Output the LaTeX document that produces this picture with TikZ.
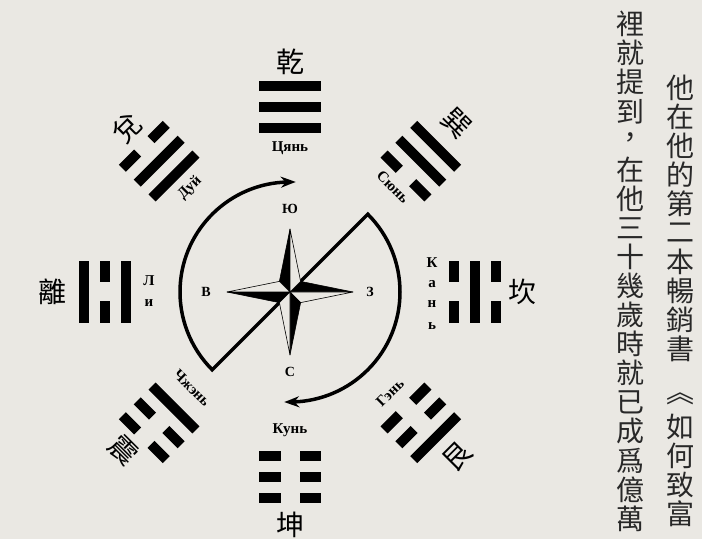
\documentclass[tikz,border=0pt]{standalone}
\usepackage{fontspec}
\setmainfont{Liberation Serif}
\newfontfamily\cjk{Noto Sans CJK TC}
\usetikzlibrary{arrows.meta,bending,calc}
\definecolor{paper}{RGB}{234,232,227}
\definecolor{ink}{RGB}{40,40,40}
\newcommand\trline[2]{%
  \ifnum#2=1
    \fill (-31,#1-5) rectangle (31,#1+5);
  \else
    \fill (-31,#1-5) rectangle (-9.5,#1+5);
    \fill (9.5,#1-5) rectangle (31,#1+5);
  \fi}
\newcommand\trigram[4]{%
  \begin{scope}[shift={(C)}, rotate={#1-90}]
    \trline{164}{#2}\trline{185}{#3}\trline{206}{#4}
  \end{scope}}
\begin{document}
\begin{tikzpicture}[x=1pt,y=1pt,
  ru/.style={font=\fontsize{15}{15}\selectfont\bfseries, inner sep=0pt},
  cmp/.style={font=\fontsize{14}{14}\selectfont\bfseries, inner sep=0pt},
  zh/.style={font=\cjk\fontsize{28}{28}\selectfont, inner sep=0pt},
  col/.style={font=\cjk\fontsize{28}{28}\selectfont, text=ink, inner sep=0pt},
  flow/.style={line width=3.5pt, {Stealth[length=15pt,width=11pt,inset=5pt,bend]}-{Stealth[length=15pt,width=11pt,inset=5pt,bend]}},
  starline/.style={draw=black, line width=0.6pt, line join=miter},
]
\fill[paper] (0,0) rectangle (702,539);
\useasboundingbox (0,0) rectangle (702,539);
\coordinate (C) at (290,247);

% trigrams: angle, inner, middle, outer
\trigram{90}{1}{1}{1}
\trigram{135}{1}{1}{0}
\trigram{180}{1}{0}{1}
\trigram{225}{1}{0}{0}
\trigram{270}{0}{0}{0}
\trigram{315}{0}{0}{1}
\trigram{0}{0}{1}{0}
\trigram{45}{0}{1}{1}

% Chinese names
\node[zh] (qian) at (290,477) {乾};
\node[zh, rotate=45] (dui) at (127,411) {兌};
\node[zh, rotate=-45] (xun) at (457,416) {巽};
\node[zh] (li) at (52,247) {離};
\node[zh] (kan) at (522,247) {坎};
\node[zh, rotate=-45] (zhen) at (123,89) {震};
\node[zh] (kun) at (290,14) {坤};
\node[zh, rotate=45] (gen) at (457,82) {艮};

% Russian names
\node[ru] (rqian) at (290,391) {Цянь};
\node[ru, rotate=45] (rdui) at (190,351) {Дуй};
\node[ru, rotate=-45] (rxun) at (393,352) {Сюнь};
\node[ru] (rli1) at (149,258) {Л};
\node[ru] (rli2) at (149,236) {и};
\node[ru] (rkan1) at (432,276) {К};
\node[ru] (rkan2) at (432,255) {а};
\node[ru] (rkan3) at (432,235) {н};
\node[ru] (rkan4) at (432,213) {ь};
\node[ru, rotate=-45] (rzhen) at (192,151) {Чжэнь};
\node[ru] (rkun) at (290,109) {Кунь};
\node[ru, rotate=45] (rgen) at (390,146) {Гэнь};

% flow path
\draw[flow] ($(C)+(87:110)$) arc[start angle=87, end angle=225, radius=110]
  -- ($(C)+(45:110)$) arc[start angle=45, end angle=-93, radius=110];

% compass star
\foreach \a in {0,90,180,270}{
  \filldraw[fill=black, starline] (C) -- ($(C)+(\a:63)$) -- ($(C)+(\a+45:15)$) -- cycle;
  \filldraw[fill=paper, starline] (C) -- ($(C)+(\a:63)$) -- ($(C)+(\a-45:15)$) -- cycle;
}
\node[cmp] (S) at (290,330) {Ю};
\node[cmp] (N) at (290,167) {С};
\node[cmp] (E) at (206,247) {В};
\node[cmp] (W) at (370,247) {З};

% vertical text, right column
\foreach \ch [count=\i from 0] in {他,在,他,的,第,二,本,暢,銷,書}{
  \node[col] (r\i) at (680,{539-88-\i*29}) {\ch};
}
\node[col] (rq) at (680,{539-399}) {︽};
\node[col] (r11) at (680,{539-427}) {如};
\node[col] (r12) at (680,{539-456}) {何};
\node[col] (r13) at (680,{539-485}) {致};
\node[col] (r14) at (680,{539-514}) {富};

% vertical text, left column
\foreach \ch [count=\i from 0] in {裡,就,提,到,，,在,他,三,十,幾,歲,時,就,已,成,爲,億,萬}{
  \node[col] (l\i) at (630,{539-24-\i*29.1}) {\ch};
}
\end{tikzpicture}
\end{document}
